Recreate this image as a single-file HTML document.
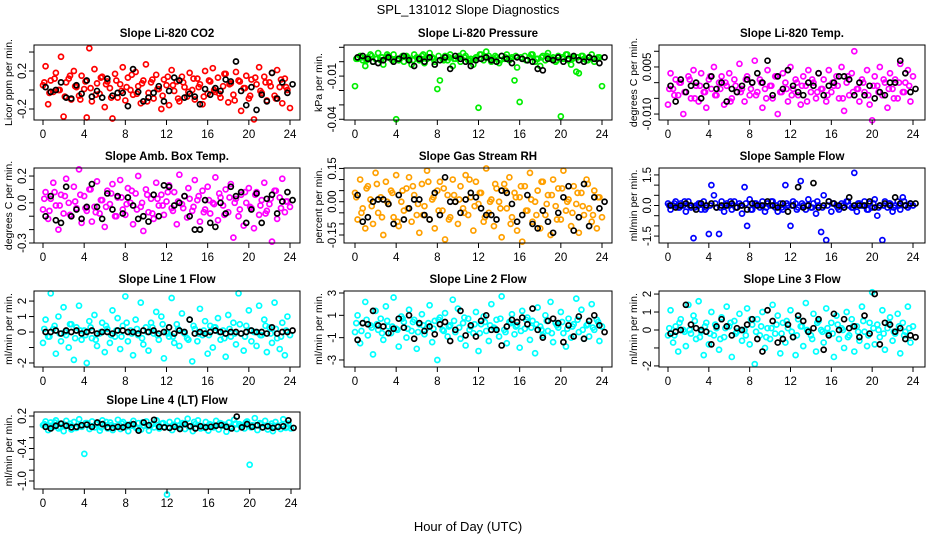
<!DOCTYPE html>
<html><head><meta charset="utf-8"><style>
html,body{margin:0;padding:0;background:#fff;}
svg{display:block;font-family:"Liberation Sans",Arial,sans-serif;}
</style></head><body>
<svg id="chart" width="936" height="540" viewBox="0 0 936 540" xmlns="http://www.w3.org/2000/svg">
<text x="468" y="14" text-anchor="middle" font-size="13">SPL_131012  Slope Diagnostics</text>
<text x="468" y="531" text-anchor="middle" font-size="13">Hour of Day (UTC)</text>
</svg>
<script>
// ---- data (colored: every 0.25 h; colored2: every 0.5 h offset 0.125; black: every 0.5 h offset 0.25) ----
const xTicks = [0,4,8,12,16,20,24];
const co2Col = [5,25,-15,10,-2,18,0,35,-28,8,12,-10,20,3,-6,15,1,-29,44,-12,22,7,-4,14,-18,9,2,-30,17,-8,6,24,-11,13,0,-5,19,4,-14,10,27,-3,8,-9,16,1,-20,11,5,-16,21,-1,9,-12,14,3,-7,18,0,-10,12,6,-15,20,-4,9,23,-2,13,-8,4,17,-13,7,-5,19,10,-22,2,15,-9,11,-31,6,24,-3,14,-11,8,18,-6,21,3,-14,12,0,-19];
const co2Col2 = [8,-3,12,0,-7,15,4,-10,9,2,-5,13,6,-8,10,-1,3,16,-4,7,-12,11,1,-6,14,5,-9,8,-2,12,3,-7,10,0,-4,17,6,-11,9,2,-6,13,-1,8,4,-9,11,3];
const co2Blk = [3,-2,0,8,-8,-9,5,-4,10,-7,-1,-8,12,-6,-3,-3,-17,22,-2,-12,-8,-3,4,-12,-1,13,10,-8,-4,-7,-15,1,-5,2,-1,11,9,30,-1,-16,3,-21,-5,-12,18,-9,8,-3,6];
const presCol = [-17,2,4,1,-3,3,5,0,2,6,1,-2,3,4,2,5,-40,1,3,0,4,2,-2,5,3,1,4,-1,2,6,3,0,-19,-13,2,4,1,5,-3,2,3,0,6,4,1,2,-2,3,-32,5,1,7,4,0,2,3,-1,4,2,5,1,3,-13,-4,-28,2,4,1,3,5,0,2,-3,4,1,6,2,3,0,4,-38,2,5,1,-2,3,-7,-8,4,2,1,3,5,0,2,3,-17];
const presCol2 = [2,3,1,4,2,3,5,1,2,4,3,1,2,5,3,2,4,1,3,2,4,3,1,2,5,3,2,4,1,3,2,4,3,1,5,2,3,4,2,1,3,5,2,3,4,1,2,3];
const presBlk = [3,4,2,0,-1,1,3,0,2,4,1,-3,2,0,3,-2,1,3,-5,4,2,0,-3,1,2,3,1,0,4,2,-1,3,2,1,0,-5,-6,2,1,3,0,2,4,1,0,3,2,-1,3];
const tempCol = [-7,3,-2,1,-4,0,-10,-3,2,-5,4,-1,-6,3,-3,-8,1,-2,5,-4,0,2,-7,-1,3,-5,1,-3,6,-2,-6,2,-4,0,7,-3,1,-8,-2,4,-1,-5,2,-10,-3,3,0,-6,5,-2,1,-4,-7,2,-1,4,-3,0,-5,3,-2,1,-6,4,-3,-1,2,-5,5,-9,0,-4,3,10,-2,-6,1,-3,4,-7,-12,2,-1,5,-4,0,-8,3,-2,1,-5,6,-3,0,4,-6,2];
const tempCol2 = [-2,-4,0,-3,1,-5,-1,-3,2,-4,-2,0,-6,-1,-3,1,-2,-4,0,-5,-1,2,-3,-2,-4,0,-1,-6,1,-3,-2,-4,0,-1,-5,2,-3,-2,0,-4,-1,-3,1,-2,-5,0,-3,-1];
const tempBlk = [-1,-6,1,-3,-1,0,-5,-1,2,-2,0,-6,-2,-3,-1,1,0,3,0,7,-4,2,-2,4,-1,-3,-4,0,-1,3,-4,-1,0,2,2,1,-4,0,-4,-1,-5,-3,-4,0,0,7,3,-3,-2];
const ambCol = [-5,8,-12,3,15,-2,-20,6,-8,18,0,-10,12,-4,25,-15,5,-6,10,-14,-3,16,-8,2,-18,9,-1,14,-10,4,17,-5,-9,11,0,-16,7,20,-3,-21,10,-7,3,-12,15,-2,6,-9,1,13,-4,8,-16,21,-1,5,-11,3,-6,17,2,-14,9,-5,12,-8,0,19,-13,4,-2,10,-7,14,-26,3,-10,6,-17,0,11,-4,-19,8,-9,2,15,-6,-1,-29,9,-12,4,18,-7,1,-3];
const ambCol2 = [3,-6,8,-2,5,-9,1,6,-4,10,-7,2,-3,7,-10,4,-1,9,-5,0,6,-8,3,-2,8,-6,1,-4,11,-3,5,-7,2,-1,7,-9,4,0,-5,8,-3,6,-2,-8,3,9,-4,1];
const ambBlk = [-10,5,-13,-15,12,-10,-5,-12,-3,14,-3,-12,7,-5,5,-8,4,-2,-12,-10,-14,6,-10,13,12,-2,0,5,-10,-20,-20,2,-15,-18,0,-8,12,5,8,-15,-5,7,-15,3,6,-8,1,8,2];
const rhCol = [4,-8,10,-3,-12,7,1,-10,13,-5,2,-15,9,-1,5,-7,12,-11,0,-4,6,11,-9,3,-6,-14,8,-2,14,-8,1,-12,5,9,-4,-17,3,-7,10,0,-10,7,-3,12,-6,2,-13,9,-1,4,-9,15,-5,1,-11,6,0,-16,8,-3,11,-7,4,-13,2,-18,7,-4,13,-9,0,5,-12,9,-6,3,-15,10,-2,6,-8,14,-4,1,-11,7,-1,-14,4,-6,10,-3,-9,5,-12,2,-7];
const rhCol2 = [2,-5,6,-2,8,-7,0,4,-9,5,-3,7,-1,-6,9,2,-4,6,-8,3,1,-5,10,-2,4,-7,0,8,-3,5,-10,2,7,-4,1,-6,9,-1,3,-8,6,0,-5,4,-2,8,-6,2];
const rhBlk = [3,-9,-7,0,1,1,-1,-10,3,-8,-3,1,1,-6,-8,4,-6,11,0,0,-5,1,4,2,-3,-6,-6,-8,5,4,-1,-9,-6,3,-10,-12,-4,-9,-14,-5,2,7,-13,-7,8,-11,2,-3,0];
const sampCol = [1,-2,0,2,-1,1,0,-3,2,-1,-16,0,1,-2,2,-1,-14,10,5,-1,-14,2,-3,1,0,-2,2,-1,1,-4,9,-10,3,-2,1,0,-1,2,-3,1,0,2,-1,-3,1,-2,10,0,-10,2,1,-1,12,0,-2,3,-1,1,-4,0,-13,5,-17,2,-3,1,0,-2,1,-1,2,0,-1,16,-3,1,0,2,-2,1,-1,3,-5,0,-17,2,-1,1,-3,0,2,-2,4,0,-1,1,0];
const sampCol2 = [0,1,-1,2,0,-1,1,-2,0,1,-1,0,2,-1,0,1,-2,1,0,-1,2,0,-1,1,0,-2,1,0,-1,2,-1,0,1,-1,0,2,-1,1,0,-2,1,-1,0,1,-1,0,2,0];
const sampBlk = [0,-1,0,1,0,-2,1,0,1,-1,0,0,1,-1,0,-2,1,0,0,2,0,-1,1,-3,0,9,-1,0,11,-1,0,2,1,0,-1,4,0,0,0,2,-1,0,1,0,4,1,0,1,1];
const l1Col = [-7,8,-3,25,2,-14,10,-6,16,-2,-10,5,-18,3,17,-5,1,-20,7,-4,11,-9,-1,6,-13,2,-7,14,-3,9,-11,4,23,-6,1,-15,8,-2,19,-8,3,-12,6,-1,13,-5,10,-17,0,-3,22,-7,5,-9,12,-1,-4,8,-19,2,-6,15,-2,7,-14,4,-10,3,9,-5,1,-16,11,-3,6,-8,25,-1,-12,4,14,-6,0,-9,17,-2,8,-13,3,-7,19,-4,-11,6,-15,10,-2];
const l1Col2 = [2,-3,4,-1,0,5,-4,1,-2,3,-5,0,4,-2,1,-3,6,-1,2,-4,0,3,-2,5,-1,-3,2,0,-5,4,-1,1,-2,3,0,-4,2,-1,5,-3,1,0,-2,4,-1,2,-3,1];
const l1Blk = [0,0,1,-1,1,0,1,-1,0,1,-1,0,0,-1,1,1,0,0,-1,1,0,1,-1,0,3,-1,1,0,8,-1,0,-1,0,1,0,-1,0,0,-1,0,1,0,0,-1,3,-1,0,0,1];
const l2Col = [-5,10,-15,3,22,-8,1,-25,14,-3,7,-12,18,0,-6,26,-2,-18,9,4,-10,15,-4,6,-20,2,11,-7,-1,19,-14,5,-30,8,-3,12,-9,1,24,-5,16,-11,3,-17,7,0,-6,13,-22,2,9,-4,-13,20,-1,6,-9,27,-3,-15,4,11,-7,1,-19,14,-2,8,-12,5,-24,17,0,-8,10,-4,22,-14,3,-1,13,-6,-18,7,-10,2,25,-5,15,-11,1,-9,20,-3,6,-13,0];
const l2Col2 = [3,-4,6,-1,2,-6,5,0,-3,7,-2,4,-5,1,3,-2,6,-4,0,5,-1,8,-3,2,-6,4,1,-2,7,-5,3,0,-4,6,-1,2,-3,5,-6,1,4,-2,0,6,-3,2,-1,4];
const l2Blk = [-12,3,2,14,1,0,-6,-2,7,-1,10,-11,3,-4,0,-7,2,4,-13,-3,14,-8,1,-9,5,10,-3,-3,-17,0,6,4,8,2,16,-3,-10,5,7,3,-14,1,-9,9,-11,5,10,1,-5];
const l3Col = [-3,11,-7,2,-12,6,0,-9,14,-2,8,-5,16,-1,-14,4,-8,10,-3,1,-11,7,-4,13,2,-15,5,-1,9,-6,0,12,-8,3,-19,6,-3,10,-10,1,-5,14,-2,8,-13,4,-7,1,11,-4,-14,6,2,-9,15,-1,-3,9,-12,5,0,-7,12,-2,4,-15,8,-5,1,-10,10,-3,6,-12,2,-6,13,-1,-9,4,21,-8,3,-4,11,-11,1,7,-6,-2,9,-13,4,-1,13,-7,2];
const l3Col2 = [1,-3,4,-1,0,5,-4,2,-2,3,-5,1,4,-2,0,-3,6,-1,2,-4,1,3,-2,5,-1,-3,2,0,-5,4,-1,1,-2,3,0,-4,2,-1,5,-3,1,0,-2,4,-1,2,-3,1];
const l3Blk = [-2,-1,0,14,3,1,0,-1,-8,2,6,2,-3,1,0,3,6,-5,-12,11,5,-7,-5,3,-4,8,5,-1,1,6,-11,-3,9,0,6,1,2,-4,8,-2,20,-8,4,3,-1,1,-5,-3,-4];
const l4Col = [3,10,-6,8,0,12,-3,5,-8,11,2,-5,9,-2,14,0,-50,7,-4,10,-1,6,-7,12,3,-3,8,-6,1,13,-4,9,0,-8,5,11,-2,7,-5,2,10,-7,4,-1,12,-3,6,0,-125,9,-6,3,11,-2,7,-4,15,1,-8,5,12,-3,0,9,-7,4,-1,11,-5,6,2,-9,8,-2,13,-4,5,0,-3,10,-70,3,16,-6,7,-1,11,-5,2,-8,9,0,-4,14,-2,6,-3];
const l4Col2 = [5,2,8,0,4,6,-2,3,7,1,5,-1,9,3,0,6,4,2,-3,8,1,5,3,7,-1,4,2,6,0,9,3,-2,5,1,7,4,0,6,2,8,-1,3,5,1,6,2,4,0];
const l4Blk = [0,-3,2,6,2,-1,0,3,4,0,8,5,-1,-2,0,-1,3,5,-7,8,3,13,0,-1,-2,0,-4,5,1,-3,1,-1,0,2,3,0,-3,19,-1,5,0,3,-1,1,-2,0,1,12,-2];

// ---- panel layout (not data) ----
const panels = [
 {name:'co2',title:'Slope Li-820 CO2',ylab:'Licor ppm per min.',col:'#ff0000',c:co2Col,c2:co2Col2,b:co2Blk,unit:0.01,box:[34,45,300,120],ymin:-0.316,ymax:0.474,ticks:[-0.2,0,0.2,0.4],labels:['-0.2','0.2'],lv:[-0.2,0.2],xt:[43,290]},
 {name:'pressure',title:'Slope Li-820 Pressure',ylab:'kPa per min.',col:'#00ee00',c:presCol,c2:presCol2,b:presBlk,unit:0.001,box:[344,45,612,120],ymin:-0.0405,ymax:0.0116,ticks:[-0.04,-0.03,-0.02,-0.01,0,0.01],labels:['-0.04','-0.01'],lv:[-0.04,-0.01],xt:[355,602]},
 {name:'li820-temp',title:'Slope Li-820 Temp.',ylab:'degrees C per min.',col:'#ff00ff',c:tempCol,c2:tempCol2,b:tempBlk,unit:0.001,box:[659,45,925,120],ymin:-0.0119,ymax:0.012,ticks:[-0.01,-0.005,0,0.005,0.01],labels:['-0.010','0.005'],lv:[-0.01,0.005],xt:[668,913]},
 {name:'amb-box-temp',title:'Slope Amb. Box Temp.',ylab:'degrees C per min.',col:'#ff00ff',c:ambCol,c2:ambCol2,b:ambBlk,unit:0.01,box:[34,168,300,243],ymin:-0.3,ymax:0.26,ticks:[-0.3,-0.2,-0.1,0,0.1,0.2],labels:['-0.3','0.0','0.2'],lv:[-0.3,0,0.2],xt:[43,290]},
 {name:'gas-stream-rh',title:'Slope Gas Stream RH',ylab:'percent per min.',col:'#ffa000',c:rhCol,c2:rhCol2,b:rhBlk,unit:0.01,box:[344,168,612,243],ymin:-0.186,ymax:0.152,ticks:[-0.15,-0.1,-0.05,0,0.05,0.1,0.15],labels:['-0.15','0.00','0.15'],lv:[-0.15,0,0.15],xt:[355,602]},
 {name:'sample-flow',title:'Slope Sample Flow',ylab:'ml/min per min.',col:'#0000ff',c:sampCol,c2:sampCol2,b:sampBlk,unit:0.1,box:[659,168,925,243],ymin:-1.84,ymax:1.84,ticks:[-1.5,-1,-0.5,0,0.5,1,1.5],labels:['-1.5','0.0','1.5'],lv:[-1.5,0,1.5],xt:[668,913]},
 {name:'line1-flow',title:'Slope Line 1 Flow',ylab:'ml/min per min.',col:'#00ffff',c:l1Col,c2:l1Col2,b:l1Blk,unit:0.1,box:[34,291,300,367],ymin:-2.26,ymax:2.65,ticks:[-2,-1,0,1,2],labels:['-2','0','1','2'],lv:[-2,0,1,2],xt:[43,290]},
 {name:'line2-flow',title:'Slope Line 2 Flow',ylab:'ml/min per min.',col:'#00ffff',c:l2Col,c2:l2Col2,b:l2Blk,unit:0.1,box:[344,291,612,367],ymin:-3.63,ymax:3.18,ticks:[-3,-1,1,3],labels:['-3','-1','1','3'],lv:[-3,-1,1,3],xt:[355,602]},
 {name:'line3-flow',title:'Slope Line 3 Flow',ylab:'ml/min per min.',col:'#00ffff',c:l3Col,c2:l3Col2,b:l3Blk,unit:0.1,box:[659,291,925,367],ymin:-2.06,ymax:2.17,ticks:[-2,-1,0,1,2],labels:['-2','0','1','2'],lv:[-2,0,1,2],xt:[668,913]},
 {name:'line4-flow',title:'Slope Line 4 (LT) Flow',ylab:'ml/min per min.',col:'#00ffff',c:l4Col,c2:l4Col2,b:l4Blk,unit:0.01,box:[34,412,300,489],ymin:-1.148,ymax:0.274,ticks:[-1,-0.8,-0.6,-0.4,-0.2,0,0.2],labels:['-1.0','-0.4','0.2'],lv:[-1,-0.4,0.2],xt:[43,291]}
];

const NS='http://www.w3.org/2000/svg';
const svg=document.getElementById('chart');
function mk(tag,attrs,parent){const e=document.createElementNS(NS,tag);for(const k in attrs)e.setAttribute(k,attrs[k]);(parent||svg).appendChild(e);return e;}

panels.forEach(p=>{
  const [L,T,R,B]=p.box;
  const g=mk('g',{});
  
  
  const xs=h=>p.xt[0]+(h/24)*(p.xt[1]-p.xt[0]);
  const ys=v=>B-(v-p.ymin)/(p.ymax-p.ymin)*(B-T);
  const t=mk('text',{x:(L+R)/2,y:T-8,'text-anchor':'middle','font-size':'11.5','font-weight':'bold'},g);
  t.textContent=p.title;
  
  
  const yl=mk('text',{transform:`translate(${L-22},${(T+B)/2}) rotate(-90)`,'text-anchor':'middle','font-size':'10.5'},g);
  yl.textContent=p.ylab;
  
  
  const pts=mk('g',{fill:'none','stroke-width':'1.7'},g);
  
  
  p.c.forEach((v,i)=>{
    const c=mk('circle',{cx:xs(i*0.25),cy:ys(v*p.unit),r:2.5,stroke:p.col},pts);
    
    
  });
  p.c2.forEach((v,i)=>{
    const c=mk('circle',{cx:xs(i*0.5+0.125),cy:ys(v*p.unit),r:2.5,stroke:p.col},pts);
    
    
  });
  p.b.forEach((v,i)=>{
    const c=mk('circle',{cx:xs(i*0.5+0.25),cy:ys(v*p.unit),r:2.5,stroke:'#000'},pts);
    
    
  });
  const box=mk('rect',{x:L,y:T,width:R-L,height:B-T,fill:'none',stroke:'#000','stroke-width':'1'},g);
  
  
  xTicks.forEach(h=>{
    const x=xs(h);
    const ln=mk('line',{x1:x,y1:B,x2:x,y2:B+5,stroke:'#000'},g);
    
    
    const tx=mk('text',{x:x,y:B+18,'text-anchor':'middle','font-size':'11.5'},g);
    tx.textContent=String(h);
    
    
  });
  p.ticks.forEach(v=>{
    const y=ys(v);
    const ln=mk('line',{x1:L-5,y1:y,x2:L,y2:y,stroke:'#000'},g);
    
    
  });
  p.labels.forEach((s,i)=>{
    const y=ys(p.lv[i]);
    const tx=mk('text',{transform:`translate(${L-8},${y}) rotate(-90)`,'text-anchor':'middle','font-size':'11.5'},g);
    tx.textContent=s;
    
    
  });
});
</script>
</body></html>
